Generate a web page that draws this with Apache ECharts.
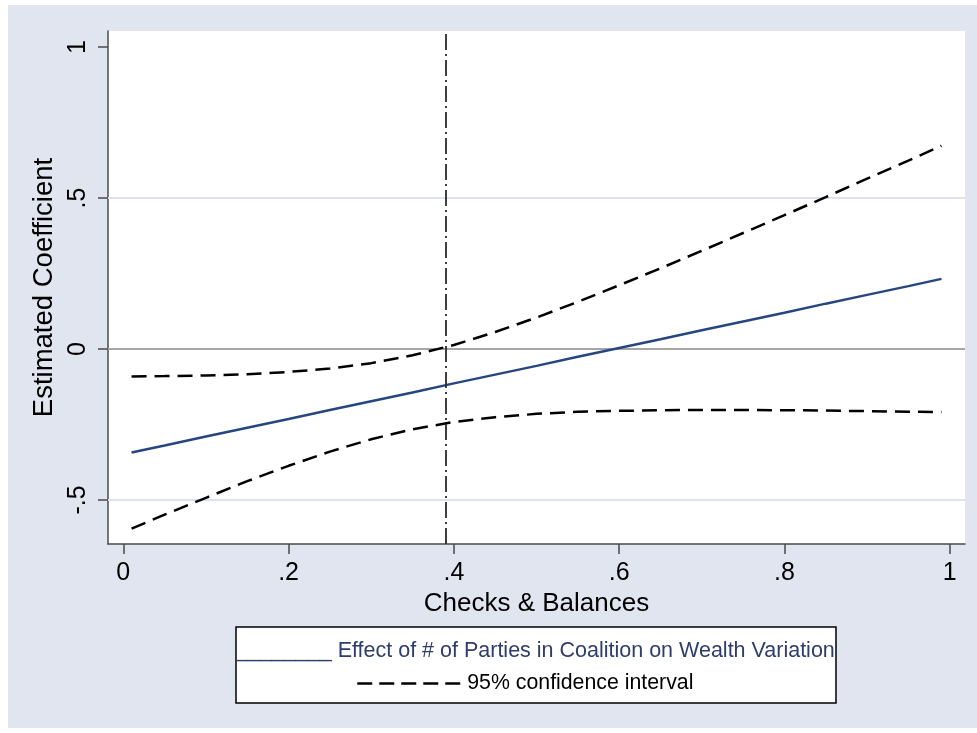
<!DOCTYPE html>
<html>
<head>
<meta charset="utf-8">
<script src="https://cdn.jsdelivr.net/npm/echarts@6/dist/echarts.min.js"></script>
<style>
  html, body { margin: 0; padding: 0; background: #ffffff; }
  #chart { position: absolute; left: 0; top: 0; width: 977px; height: 733px; }
</style>
</head>
<body>
<div id="chart"></div>
<script>
// ---- data ----
const xs = [0.01, 0.05, 0.10, 0.15, 0.20, 0.25, 0.30, 0.35, 0.40, 0.45, 0.50,
            0.55, 0.60, 0.65, 0.70, 0.75, 0.80, 0.85, 0.90, 0.95, 0.99];
const effect = [-0.343, -0.320, -0.290, -0.261, -0.232, -0.202, -0.173, -0.144, -0.114, -0.085, -0.056,
                -0.026, 0.003, 0.032, 0.062, 0.091, 0.120, 0.150, 0.179, 0.208, 0.232];
const upperCI = [-0.091, -0.090, -0.088, -0.084, -0.076, -0.065, -0.047, -0.021, 0.013, 0.056, 0.104,
                 0.156, 0.211, 0.267, 0.325, 0.384, 0.443, 0.503, 0.564, 0.624, 0.673];
const lowerCI = [-0.595, -0.549, -0.493, -0.438, -0.387, -0.340, -0.299, -0.266, -0.242, -0.226, -0.215,
                 -0.208, -0.205, -0.203, -0.202, -0.202, -0.203, -0.204, -0.206, -0.208, -0.209];
const refLineX = [0.39];
const zeroLineY = [0];
const gridLinesY = [-0.5, 0.5];

const xTicks = [0, 0.2, 0.4, 0.6, 0.8, 1];
const xTickLabels = ['0', '.2', '.4', '.6', '.8', '1'];
const yTicks = [-0.5, 0, 0.5, 1];
const yTickLabels = ['-.5', '0', '.5', '1'];

const xTitle = 'Checks & Balances';
const yTitle = 'Estimated Coefficient';
const effectName = 'Effect of # of Parties in Coalition on Wealth Variation';
const ciName = '95% confidence interval';

// ---- build ----
const pairs = (ys) => xs.map((x, i) => [x, ys[i]]);
const lab = (ticks, labels) => (v) => {
  const i = ticks.findIndex(t => Math.abs(t - v) < 1e-9);
  return i >= 0 ? labels[i] : '';
};
const FONT = 'Liberation Sans, Arial, sans-serif';
const AXIS_COLOR = '#4a4a4a';

const chart = echarts.init(document.getElementById('chart'), null, { renderer: 'canvas' });
chart.setOption({
  animation: false,
  backgroundColor: 'transparent',
  textStyle: { fontFamily: FONT },
  graphic: [
    { type: 'rect', z: -10, shape: { x: 8, y: 5, width: 969, height: 723 },
      style: { fill: '#e1e5f0' } },
    { type: 'rect', z: 1, shape: { x: 236, y: 627, width: 600, height: 76 },
      style: { fill: '#ffffff', stroke: '#000000', lineWidth: 1.5 } }
  ],
  grid: {
    left: 108, top: 31, right: 12, bottom: 189,
    show: true, backgroundColor: '#ffffff', borderWidth: 0
  },
  xAxis: {
    type: 'value', min: -0.0185, max: 1.0185,
    name: xTitle, nameLocation: 'middle', nameGap: 44,
    nameTextStyle: { fontSize: 26, color: '#000', fontFamily: FONT },
    axisLine: { show: true, onZero: false, lineStyle: { color: AXIS_COLOR, width: 1.5 } },
    axisTick: { show: true, length: 10, customValues: xTicks, lineStyle: { color: AXIS_COLOR, width: 1.5 } },
    axisLabel: { customValues: xTicks, formatter: lab(xTicks, xTickLabels), margin: 17,
                 fontSize: 25, color: '#000', fontFamily: FONT },
    splitLine: { show: false }
  },
  yAxis: {
    type: 'value', min: -0.646, max: 1.053,
    name: yTitle, nameLocation: 'middle', nameGap: 49,
    nameTextStyle: { fontSize: 27.5, color: '#000', fontFamily: FONT },
    axisLine: { show: true, onZero: false, lineStyle: { color: AXIS_COLOR, width: 1.5 } },
    axisTick: { show: true, length: 10, customValues: yTicks, lineStyle: { color: AXIS_COLOR, width: 1.5 } },
    axisLabel: { customValues: yTicks, formatter: lab(yTicks, yTickLabels), rotate: 90, margin: 17,
                 fontSize: 25, color: '#000', fontFamily: FONT },
    splitLine: { show: false }
  },
  legend: [
    {
      data: [{ name: effectName, icon: 'none' }],
      left: 231, top: 640, itemWidth: 0, itemHeight: 10, itemGap: 0, padding: 0,
      selectedMode: false,
      formatter: (n) => '________ ' + n,
      textStyle: { fontSize: 21.5, color: '#2e3d6b', fontFamily: FONT }
    },
    {
      data: [ciName],
      left: 356, top: 673, itemWidth: 105, itemHeight: 12, padding: 0,
      selectedMode: false,
      itemStyle: { opacity: 0 },
      lineStyle: { color: '#000', width: 2.5, type: [15, 7] },
      textStyle: { fontSize: 21.3, color: '#000', fontFamily: FONT }
    }
  ],
  series: [
    {
      name: 'reference lines', type: 'line', data: [], z: 1, silent: true,
      markLine: {
        silent: true, symbol: 'none', z: 1, label: { show: false },
        data: [
          ...gridLinesY.map(v => ({ yAxis: v, lineStyle: { color: '#dde2ee', width: 2, type: 'solid' } })),
          ...zeroLineY.map(v => ({ yAxis: v, lineStyle: { color: '#a6a6a6', width: 2, type: 'solid' } }))
        ]
      }
    },
    {
      name: effectName, type: 'line', data: pairs(effect), z: 3,
      symbol: 'none', showSymbol: false,
      lineStyle: { color: '#26467f', width: 2.5 },
      itemStyle: { color: '#26467f' }
    },
    {
      name: ciName, type: 'line', data: pairs(upperCI), z: 3,
      symbol: 'none', showSymbol: false,
      lineStyle: { color: '#000', width: 2.5, type: [15, 8] },
      itemStyle: { color: '#000' }
    },
    {
      name: ciName, type: 'line', data: pairs(lowerCI), z: 3,
      symbol: 'none', showSymbol: false,
      lineStyle: { color: '#000', width: 2.5, type: [15, 8] },
      itemStyle: { color: '#000' },
      markLine: {
        silent: true, symbol: 'none', z: 4, label: { show: false },
        data: refLineX.map(v => ({ xAxis: v, lineStyle: { color: '#2a2a2a', width: 1.8, type: [16, 4, 2, 4] } }))
      }
    }
  ]
});
</script>
</body>
</html>
